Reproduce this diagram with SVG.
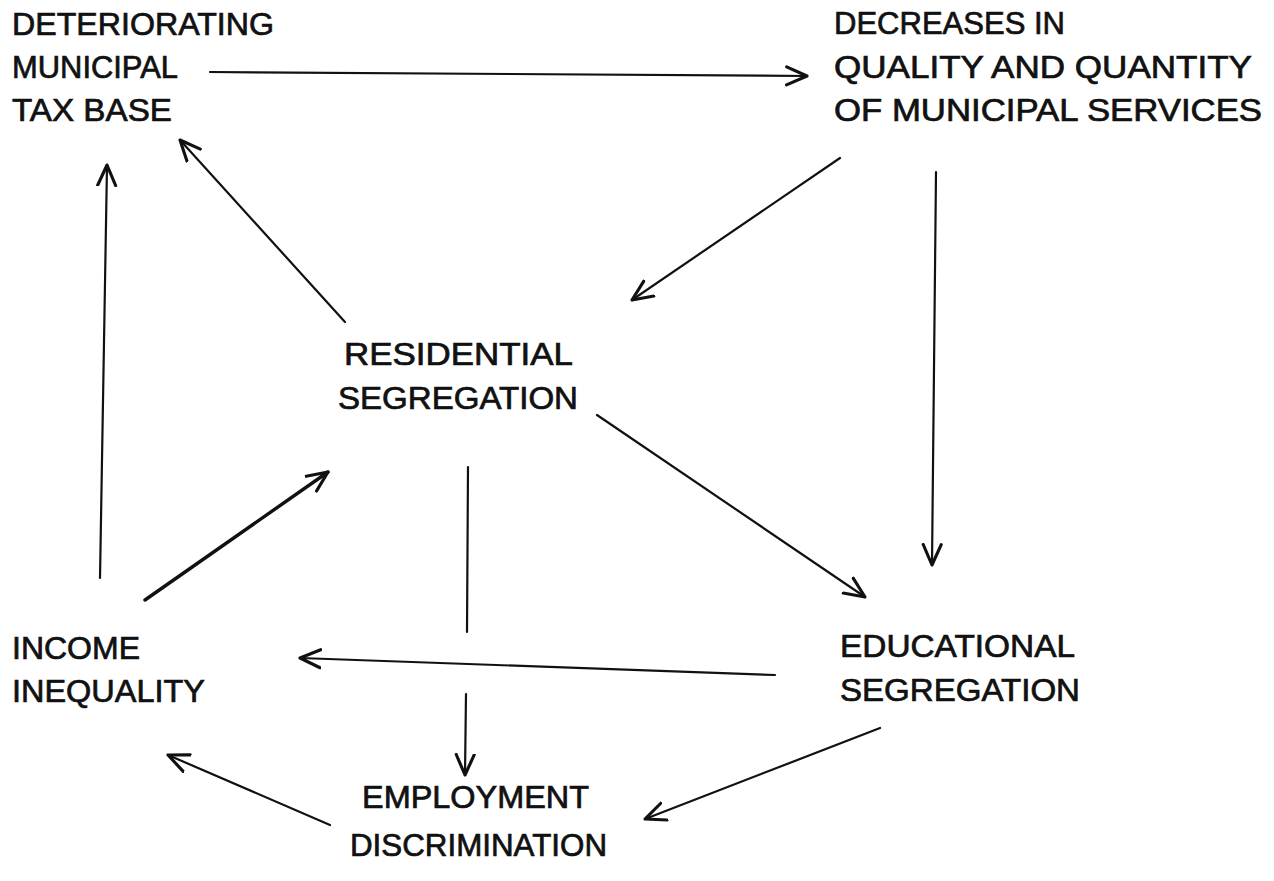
<svg xmlns="http://www.w3.org/2000/svg" width="1274" height="881" viewBox="0 0 1274 881">
<style>
text{font-family:"Liberation Sans",Arial,sans-serif;font-size:31px;fill:#111;stroke:#111;stroke-width:0.7;}
.c line{stroke:#111;stroke-width:2.2;fill:none;stroke-linecap:round;}
.c .thick{stroke-width:3.4;}
</style>
<defs>
<marker id="a" markerUnits="userSpaceOnUse" markerWidth="24" markerHeight="24" refX="18" refY="10" orient="auto" viewBox="0 0 20 20">
<polyline points="1,2.5 18,10 1,17.5" fill="none" stroke="#111" stroke-width="2.6" stroke-linecap="round" stroke-linejoin="round"/>
</marker>
</defs>
<rect width="1274" height="881" fill="#fff"/>
<g id="tax-base">
<text x="12" y="35" textLength="262" lengthAdjust="spacingAndGlyphs">DETERIORATING</text>
<text x="12" y="78" textLength="166" lengthAdjust="spacingAndGlyphs">MUNICIPAL</text>
<text x="12" y="121" textLength="160" lengthAdjust="spacingAndGlyphs">TAX BASE</text>
</g>
<g id="services">
<text x="834" y="34" textLength="231" lengthAdjust="spacingAndGlyphs">DECREASES IN</text>
<text x="834" y="78" textLength="418" lengthAdjust="spacingAndGlyphs">QUALITY AND QUANTITY</text>
<text x="834" y="121" textLength="428" lengthAdjust="spacingAndGlyphs">OF MUNICIPAL SERVICES</text>
</g>
<g id="residential">
<text x="344" y="365" textLength="229" lengthAdjust="spacingAndGlyphs">RESIDENTIAL</text>
<text x="338" y="409" textLength="240" lengthAdjust="spacingAndGlyphs">SEGREGATION</text>
</g>
<g id="income">
<text x="12" y="659" textLength="128" lengthAdjust="spacingAndGlyphs">INCOME</text>
<text x="12" y="702" textLength="193" lengthAdjust="spacingAndGlyphs">INEQUALITY</text>
</g>
<g id="educational">
<text x="840" y="657" textLength="235" lengthAdjust="spacingAndGlyphs">EDUCATIONAL</text>
<text x="840" y="701" textLength="240" lengthAdjust="spacingAndGlyphs">SEGREGATION</text>
</g>
<g id="employment">
<text x="362" y="808" textLength="227" lengthAdjust="spacingAndGlyphs">EMPLOYMENT</text>
<text x="350" y="856" textLength="257" lengthAdjust="spacingAndGlyphs">DISCRIMINATION</text>
</g>
<g class="c" id="connectors">
<line x1="210" y1="72" x2="807" y2="76" marker-end="url(#a)"/>
<line x1="345" y1="322" x2="180" y2="140" marker-end="url(#a)"/>
<line x1="100" y1="578" x2="107" y2="165" marker-end="url(#a)"/>
<line class="thick" x1="145" y1="600" x2="328" y2="472" marker-end="url(#a)"/>
<line x1="840" y1="158" x2="632" y2="300" marker-end="url(#a)"/>
<line x1="936" y1="172" x2="932" y2="565" marker-end="url(#a)"/>
<line x1="597" y1="415" x2="865" y2="597" marker-end="url(#a)"/>
<line x1="468" y1="467" x2="467" y2="632"/>
<line x1="466" y1="694" x2="465" y2="775" marker-end="url(#a)"/>
<line x1="775" y1="675" x2="300" y2="658" marker-end="url(#a)"/>
<line x1="880" y1="728" x2="645" y2="819" marker-end="url(#a)"/>
<line x1="330" y1="825" x2="168" y2="755" marker-end="url(#a)"/>
</g>
</svg>
